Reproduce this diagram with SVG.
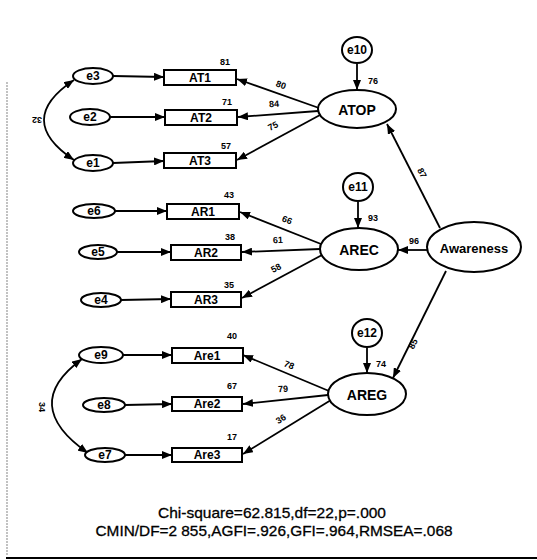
<svg xmlns="http://www.w3.org/2000/svg" width="537" height="560" viewBox="0 0 537 560">
  <style>
    .shape { fill: #fff; stroke: #000; stroke-width: 2; }
    .edge { fill: none; stroke: #000; stroke-width: 1.8; }
    .name { font-family: "Liberation Sans", Arial, sans-serif; font-size: 12px; font-weight: bold; fill: #000; text-anchor: middle; dominant-baseline: central; }
    .big { font-size: 14px; }
    .coef { font-family: "Liberation Sans", Arial, sans-serif; font-size: 9px; font-weight: bold; fill: #000; text-anchor: middle; dominant-baseline: central; }
    .fit { font-family: "Liberation Sans", Arial, sans-serif; font-size: 15px; fill: #000; stroke: #000; stroke-width: 0.3; text-anchor: middle; }
  </style>
  <defs>
    <marker id="head" viewBox="0 0 10 8" refX="10" refY="4" markerWidth="10" markerHeight="8" markerUnits="userSpaceOnUse" orient="auto-start-reverse">
      <path d="M0,0 L10,4 L0,8 Z" fill="#000"/>
    </marker>
  </defs>
  <rect width="537" height="560" fill="#fff"/>

  <!-- frame -->
  <line x1="7" y1="82" x2="7" y2="556" stroke="#999" stroke-width="1.2" stroke-dasharray="2 1"/>
  <line x1="6" y1="558" x2="537" y2="558" stroke="#000" stroke-width="2"/>

  <!-- connectors -->
  <g id="connectors">
    <!-- error terms to indicators -->
    <line class="edge" x1="113" y1="76" x2="164" y2="77" marker-end="url(#head)"/>
    <line class="edge" x1="110" y1="117" x2="165" y2="117" marker-end="url(#head)"/>
    <line class="edge" x1="113" y1="163" x2="164" y2="161" marker-end="url(#head)"/>
    <line class="edge" x1="115" y1="211" x2="167" y2="211" marker-end="url(#head)"/>
    <line class="edge" x1="117" y1="252" x2="171" y2="252" marker-end="url(#head)"/>
    <line class="edge" x1="121" y1="300" x2="171" y2="299" marker-end="url(#head)"/>
    <line class="edge" x1="123" y1="355" x2="172" y2="355" marker-end="url(#head)"/>
    <line class="edge" x1="125" y1="405" x2="172" y2="404" marker-end="url(#head)"/>
    <line class="edge" x1="125" y1="455" x2="172" y2="455" marker-end="url(#head)"/>

    <!-- ATOP loadings -->
    <line class="edge" x1="319" y1="108" x2="237" y2="79" marker-end="url(#head)"/>
    <line class="edge" x1="318" y1="111" x2="238" y2="117" marker-end="url(#head)"/>
    <line class="edge" x1="320" y1="115" x2="237" y2="160" marker-end="url(#head)"/>
    <!-- AREC loadings -->
    <line class="edge" x1="321" y1="244" x2="240" y2="212" marker-end="url(#head)"/>
    <line class="edge" x1="320" y1="249" x2="242" y2="252" marker-end="url(#head)"/>
    <line class="edge" x1="322" y1="255" x2="242" y2="298" marker-end="url(#head)"/>
    <!-- AREG loadings -->
    <line class="edge" x1="329" y1="391" x2="243" y2="355" marker-end="url(#head)"/>
    <line class="edge" x1="328" y1="395" x2="243" y2="404" marker-end="url(#head)"/>
    <line class="edge" x1="331" y1="400" x2="243" y2="454" marker-end="url(#head)"/>

    <!-- disturbances -->
    <line class="edge" x1="357" y1="64" x2="357" y2="90" marker-end="url(#head)"/>
    <line class="edge" x1="358" y1="202" x2="358" y2="228" marker-end="url(#head)"/>
    <line class="edge" x1="367" y1="348" x2="367" y2="373" marker-end="url(#head)"/>

    <!-- second-order paths -->
    <line class="edge" x1="440" y1="228" x2="387" y2="124" marker-end="url(#head)"/>
    <line class="edge" x1="427" y1="250" x2="398" y2="250" marker-end="url(#head)"/>
    <line class="edge" x1="446" y1="271" x2="393" y2="378" marker-end="url(#head)"/>

    <!-- covariances -->
    <path class="edge" d="M74,80 Q14,120 74,160" marker-start="url(#head)" marker-end="url(#head)"/>
    <path class="edge" d="M82,359 Q19,405 88,453" marker-start="url(#head)" marker-end="url(#head)"/>
  </g>

  <!-- coefficient labels -->
  <g id="coefficients">
    <text class="coef" x="225" y="62">81</text>
    <text class="coef" x="227" y="102">71</text>
    <text class="coef" x="226" y="146">57</text>
    <text class="coef" x="229" y="195">43</text>
    <text class="coef" x="230" y="237">38</text>
    <text class="coef" x="229" y="285">35</text>
    <text class="coef" x="232" y="336">40</text>
    <text class="coef" x="232" y="386">67</text>
    <text class="coef" x="232" y="437">17</text>

    <text class="coef" transform="translate(281,85) rotate(20)">80</text>
    <text class="coef" transform="translate(274,104) rotate(-4)">84</text>
    <text class="coef" transform="translate(273,126) rotate(-28)">75</text>
    <text class="coef" transform="translate(287,220) rotate(22)">66</text>
    <text class="coef" transform="translate(278,240) rotate(-2)">61</text>
    <text class="coef" transform="translate(276,268) rotate(-28)">58</text>
    <text class="coef" transform="translate(289,365) rotate(22)">78</text>
    <text class="coef" transform="translate(283,389) rotate(-4)">79</text>
    <text class="coef" transform="translate(281,419) rotate(-32)">36</text>

    <text class="coef" x="373" y="81">76</text>
    <text class="coef" x="373" y="218">93</text>
    <text class="coef" x="381" y="364">74</text>
    <text class="coef" transform="translate(422,173) rotate(63)">87</text>
    <text class="coef" x="414" y="241">96</text>
    <text class="coef" transform="translate(413,344) rotate(-63)">85</text>

    <text class="coef" transform="translate(37,120) rotate(180)">32</text>
    <text class="coef" transform="translate(42,407) rotate(90)">34</text>
  </g>

  <!-- error terms -->
  <g id="e3"><ellipse class="shape" cx="93" cy="76" rx="20" ry="8"/><text class="name" x="93" y="76">e3</text></g>
  <g id="e2"><ellipse class="shape" cx="90" cy="117" rx="20" ry="8"/><text class="name" x="90" y="117">e2</text></g>
  <g id="e1"><ellipse class="shape" cx="93" cy="163" rx="20" ry="8"/><text class="name" x="93" y="163">e1</text></g>
  <g id="e6"><ellipse class="shape" cx="94" cy="211" rx="21" ry="7"/><text class="name" x="94" y="211">e6</text></g>
  <g id="e5"><ellipse class="shape" cx="98" cy="252" rx="19" ry="7"/><text class="name" x="98" y="252">e5</text></g>
  <g id="e4"><ellipse class="shape" cx="101" cy="300" rx="20" ry="7"/><text class="name" x="101" y="300">e4</text></g>
  <g id="e9"><ellipse class="shape" cx="101" cy="355" rx="22" ry="8"/><text class="name" x="101" y="355">e9</text></g>
  <g id="e8"><ellipse class="shape" cx="104" cy="405" rx="21" ry="7"/><text class="name" x="104" y="405">e8</text></g>
  <g id="e7"><ellipse class="shape" cx="105" cy="455" rx="20" ry="7"/><text class="name" x="105" y="455">e7</text></g>

  <!-- observed indicators -->
  <g id="AT1"><rect class="shape" x="164" y="70" width="72" height="15"/><text class="name" x="200" y="78">AT1</text></g>
  <g id="AT2"><rect class="shape" x="165" y="110" width="72" height="15"/><text class="name" x="201" y="118">AT2</text></g>
  <g id="AT3"><rect class="shape" x="164" y="153" width="72" height="15"/><text class="name" x="200" y="161">AT3</text></g>
  <g id="AR1"><rect class="shape" x="167" y="204" width="72" height="15"/><text class="name" x="203" y="212">AR1</text></g>
  <g id="AR2"><rect class="shape" x="171" y="245" width="70" height="15"/><text class="name" x="206" y="253">AR2</text></g>
  <g id="AR3"><rect class="shape" x="171" y="292" width="70" height="15"/><text class="name" x="206" y="300">AR3</text></g>
  <g id="Are1"><rect class="shape" x="172" y="348" width="71" height="15"/><text class="name" x="207" y="356">Are1</text></g>
  <g id="Are2"><rect class="shape" x="172" y="397" width="70" height="14"/><text class="name" x="207" y="404">Are2</text></g>
  <g id="Are3"><rect class="shape" x="172" y="448" width="70" height="14"/><text class="name" x="207" y="455">Are3</text></g>

  <!-- latent factors -->
  <g id="ATOP"><ellipse class="shape" cx="357" cy="109" rx="39" ry="19"/><text class="name big" x="357" y="110">ATOP</text></g>
  <g id="AREC"><ellipse class="shape" cx="359" cy="249" rx="39" ry="21"/><text class="name big" x="359" y="250">AREC</text></g>
  <g id="AREG"><ellipse class="shape" cx="367" cy="394" rx="39" ry="21"/><text class="name big" x="367" y="395">AREG</text></g>
  <g id="Awareness"><ellipse class="shape" cx="474" cy="247" rx="47" ry="25"/><text class="name" x="474" y="248" style="font-size:13px">Awareness</text></g>

  <!-- disturbance terms -->
  <g id="e10"><ellipse class="shape" cx="357" cy="50" rx="15" ry="13"/><text class="name" x="357" y="50">e10</text></g>
  <g id="e11"><ellipse class="shape" cx="358" cy="187" rx="15" ry="14"/><text class="name" x="358" y="187">e11</text></g>
  <g id="e12"><ellipse class="shape" cx="367" cy="333" rx="15" ry="14"/><text class="name" x="367" y="333">e12</text></g>

  <!-- fit statistics -->
  <text class="fit" x="272" y="518" textLength="228" lengthAdjust="spacingAndGlyphs">Chi-square=62.815,df=22,p=.000</text>
  <text class="fit" x="274" y="536" textLength="357" lengthAdjust="spacingAndGlyphs">CMIN/DF=2 855,AGFI=.926,GFI=.964,RMSEA=.068</text>
</svg>
